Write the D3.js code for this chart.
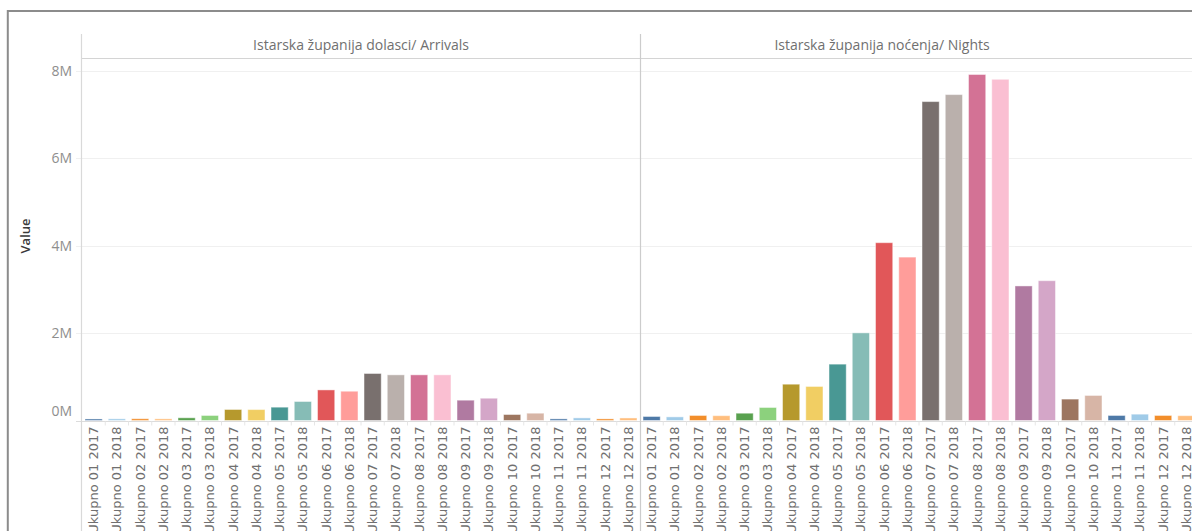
<!DOCTYPE html>
<html>
<head>
<meta charset="utf-8">
<script src="https://cdn.jsdelivr.net/npm/d3@7"></script>
<style>
  html, body { margin: 0; padding: 0; background: #fff; overflow: hidden; }
  svg { display: block; }
</style>
</head>
<body>
<svg id="chart" width="1192" height="531"></svg>
<script>
// ---------- data ----------
const categories = [
  "Ukupno 01 2017","Ukupno 01 2018","Ukupno 02 2017","Ukupno 02 2018",
  "Ukupno 03 2017","Ukupno 03 2018","Ukupno 04 2017","Ukupno 04 2018",
  "Ukupno 05 2017","Ukupno 05 2018","Ukupno 06 2017","Ukupno 06 2018",
  "Ukupno 07 2017","Ukupno 07 2018","Ukupno 08 2017","Ukupno 08 2018",
  "Ukupno 09 2017","Ukupno 09 2018","Ukupno 10 2017","Ukupno 10 2018",
  "Ukupno 11 2017","Ukupno 11 2018","Ukupno 12 2017","Ukupno 12 2018"
];
const panels = ["Istarska županija dolasci/ Arrivals", "Istarska županija noćenja/ Nights"];
const arrivals = [
  35000, 38000, 40000, 38000,
  62000, 115000, 252000, 250000,
  305000, 435000, 700000, 670000,
  1076000, 1045000, 1045000, 1045000,
  465000, 510000, 137000, 167000,
  37000, 60000, 37000, 58000
];
const nights = [
  92000, 83000, 115000, 110000,
  167000, 298000, 831000, 779000,
  1290000, 2006000, 4070000, 3740000,
  7300000, 7460000, 7920000, 7810000,
  3080000, 3200000, 490000, 573000,
  115000, 145000, 115000, 110000
];
const yTicks = [0, 2000000, 4000000, 6000000, 8000000];
const yTickLabels = ["0M", "2M", "4M", "6M", "8M"];
const yTitle = "Value";
const palette = [
  "#4e79a7","#a0cbe8","#f28e2b","#ffbe7d","#59a14f","#8cd17d","#b6992d","#f1ce63",
  "#499894","#86bcb6","#e15759","#ff9d9a","#79706e","#bab0ac","#d37295","#fabfd2",
  "#b07aa1","#d4a6c8","#9d7660","#d7b5a6"
];

// ---------- layout ----------
const svg = d3.select("#chart");
const W = 1192, H = 531;
const axisX = 82, paneW = 558;
const headerTop = 34, headerBottom = 58.5;
const series = [arrivals, nights];

const y = d3.scaleLinear().domain([0, 8000000]).range([420.5, 71]);
const color = d3.scaleOrdinal().domain(categories).range(palette);

// outer frame
svg.append("line").attr("x1", 7).attr("x2", W).attr("y1", 11).attr("y2", 11)
  .attr("stroke", "#8c8c8c").attr("stroke-width", 2);
svg.append("line").attr("x1", 7.8).attr("x2", 7.8).attr("y1", 10).attr("y2", H)
  .attr("stroke", "#8c8c8c").attr("stroke-width", 2);

// gridlines
const grid = svg.append("g");
grid.selectAll("line").data(yTicks).join("line")
  .attr("x1", axisX - 6).attr("x2", W)
  .attr("y1", d => Math.round(y(d)) + 0.5).attr("y2", d => Math.round(y(d)) + 0.5)
  .attr("stroke", d => d === 0 ? "#dcdcdc" : "#f0f0f0").attr("stroke-width", 1);

// header line
svg.append("line").attr("x1", axisX).attr("x2", W)
  .attr("y1", headerBottom).attr("y2", headerBottom)
  .attr("stroke", "#d4d4d4").attr("stroke-width", 1.2);

// y axis (labels)
const yAxis = d3.axisLeft(y).tickValues(yTicks)
  .tickFormat((d, i) => yTickLabels[i]).tickSize(0).tickPadding(10);
const gy = svg.append("g").attr("transform", `translate(${axisX},0)`).call(yAxis);
gy.select(".domain").remove();
gy.selectAll("text").attr("fill", "#8e8e8e")
  .attr("font-family", "'Open Sans', sans-serif").attr("font-size", 14)
  .attr("dy", d => d === 0 ? "-0.35em" : "0.32em");

// y title
svg.append("text").text(yTitle)
  .attr("transform", "translate(27,236) rotate(-90)")
  .attr("text-anchor", "middle").attr("dominant-baseline", "middle")
  .attr("font-family", "'Open Sans', sans-serif").attr("font-weight", 600)
  .attr("font-size", 13).attr("fill", "#3a3a3a");

// panes
const headerX = [axisX + paneW / 2, 882];
panels.forEach((name, p) => {
  const x0 = axisX + p * paneW;
  const x = d3.scaleBand().domain(categories).range([x0, x0 + paneW])
    .paddingInner(0.26).paddingOuter(0.13);
  const g = svg.append("g");

  // header
  g.append("text").text(name)
    .attr("x", headerX[p]).attr("y", 46.5)
    .attr("text-anchor", "middle").attr("dominant-baseline", "middle")
    .attr("font-family", "'Open Sans', sans-serif").attr("font-size", 14)
    .attr("fill", "#707070");

  // bars
  g.selectAll("rect").data(categories).join("rect")
    .attr("x", d => x(d)).attr("width", x.bandwidth())
    .attr("y", (d, i) => y(series[p][i]))
    .attr("height", (d, i) => y(0) - y(series[p][i]))
    .attr("fill", d => color(d))
    .attr("stroke", "#ffffff").attr("stroke-opacity", 0.45).attr("stroke-width", 1);

  // x axis
  const xAxis = d3.axisBottom(x).tickSize(0).tickPadding(0);
  const gx = g.append("g").attr("transform", `translate(0,${y(0)})`).call(xAxis);
  gx.select(".domain").remove();
  gx.selectAll("text")
    .attr("transform", "translate(0,6) rotate(-90)")
    .attr("text-anchor", "end").attr("dy", "0.35em").attr("x", 0).attr("y", 0)
    .attr("font-family", "'DejaVu Sans', sans-serif").attr("font-size", 13)
    .attr("fill", "#707070");
  // dividers between bands
  g.selectAll("line.div").data(categories.slice(1)).join("line")
    .attr("class", "div")
    .attr("x1", d => x(d) - x.step() * x.paddingInner() / 2)
    .attr("x2", d => x(d) - x.step() * x.paddingInner() / 2)
    .attr("y1", y(0) + 1).attr("y2", y(0) + 5)
    .attr("stroke", "#e6e6e6").attr("stroke-width", 1);
});

// axis line and pane separator
svg.append("line").attr("x1", axisX - 0.5).attr("x2", axisX - 0.5)
  .attr("y1", headerTop).attr("y2", H).attr("stroke", "#d9d9d9").attr("stroke-width", 1.2);
svg.append("line").attr("x1", axisX + paneW + 0.5).attr("x2", axisX + paneW + 0.5)
  .attr("y1", headerTop).attr("y2", H).attr("stroke", "#cccccc").attr("stroke-width", 1.2);
</script>
</body>
</html>
